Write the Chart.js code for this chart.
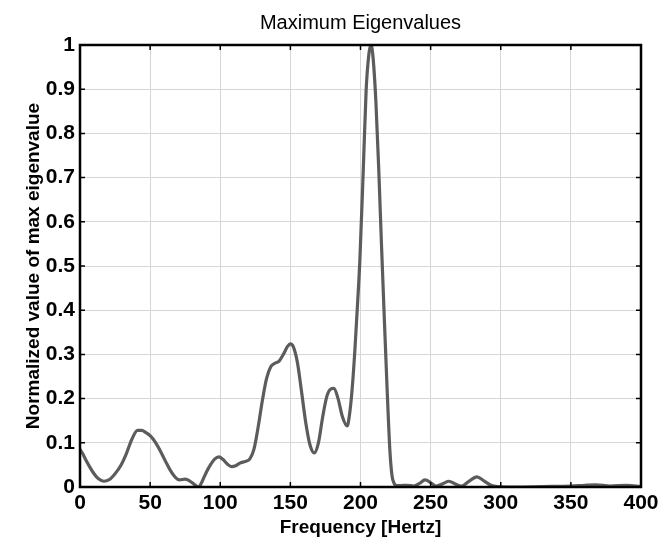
<!DOCTYPE html>
<html>
<head>
<meta charset="utf-8">
<script src="https://cdn.jsdelivr.net/npm/chart.js@4"></script>
<style>
  html, body { margin: 0; padding: 0; background: #ffffff; }
  #wrap { width: 671px; height: 537px; position: relative; }
</style>
</head>
<body>
<div id="wrap"><canvas id="c" width="671" height="537"></canvas></div>
<script>
const chartTitle = "Maximum Eigenvalues";
const xAxisTitle = "Frequency [Hertz]";
const yAxisTitle = "Normalized value of max eigenvalue";
const xTickLabels = ["0","50","100","150","200","250","300","350","400"];
const yTickLabels = ["0","0.1","0.2","0.3","0.4","0.5","0.6","0.7","0.8","0.9","1"];

const frequency = [0,2,4,7,10,13,17,21,25,29,33,37,41,44,47,50,54,57,61,64,68,71,75,78,81,84.5,87,90,93,96,99,102,105,108,111,114,118,121,124,127,130,133,136,139,142,145,148,150,152,155,158,161,164,167,170,173,176,179,181,184,187,190.5,192,194,196,198,199.5,202,204,206,207.5,209,211,213,215,217,219,221,222.5,224,226,228,233,238,242,246,250,254,259,263,268,272,277,283,288,293,298,310,330,350,360,368,378,390,400];
const maxEigenvalue = [0.085,0.075,0.062,0.045,0.030,0.019,0.013,0.017,0.030,0.048,0.075,0.108,0.128,0.128,0.123,0.116,0.100,0.083,0.058,0.040,0.022,0.016,0.018,0.014,0.007,0.0,0.012,0.033,0.050,0.063,0.068,0.062,0.052,0.046,0.048,0.054,0.058,0.063,0.085,0.135,0.195,0.245,0.272,0.280,0.285,0.300,0.318,0.324,0.318,0.282,0.215,0.145,0.095,0.077,0.100,0.158,0.205,0.222,0.223,0.200,0.160,0.138,0.160,0.220,0.310,0.420,0.510,0.720,0.896,0.980,1.0,0.970,0.870,0.720,0.545,0.380,0.220,0.080,0.025,0.008,0.003,0.003,0.004,0.002,0.008,0.016,0.010,0.002,0.008,0.013,0.006,0.002,0.012,0.023,0.014,0.004,0.001,0.0,0.001,0.002,0.004,0.005,0.002,0.004,0.001];

const points = frequency.map((f, i) => ({ x: f, y: maxEigenvalue[i] }));

const FONT = "'Liberation Sans', Arial, Helvetica, sans-serif";

const frameAndTicks = {
  id: 'frameAndTicks',
  afterDraw(chart) {
    const { ctx, chartArea: a, scales } = chart;
    const xs = scales.x, ys = scales.y;
    ctx.save();
    ctx.strokeStyle = '#000000';
    ctx.lineWidth = 1.5;
    const L = 5;
    ctx.beginPath();
    xs.ticks.forEach(t => {
      const px = xs.getPixelForValue(t.value);
      ctx.moveTo(px, a.bottom); ctx.lineTo(px, a.bottom - L);
      ctx.moveTo(px, a.top); ctx.lineTo(px, a.top + L);
    });
    ys.ticks.forEach(t => {
      const py = ys.getPixelForValue(t.value);
      ctx.moveTo(a.left, py); ctx.lineTo(a.left + L, py);
      ctx.moveTo(a.right, py); ctx.lineTo(a.right - L, py);
    });
    ctx.stroke();
    ctx.lineWidth = 2.5;
    ctx.strokeRect(a.left, a.top, a.right - a.left, a.bottom - a.top);
    ctx.restore();
  }
};

new Chart(document.getElementById('c'), {
  type: 'line',
  data: {
    datasets: [{
      data: points,
      borderColor: '#5c5c5c',
      borderWidth: 3.2,
      pointRadius: 0,
      fill: false,
      cubicInterpolationMode: 'monotone'
    }]
  },
  options: {
    responsive: false,
    animation: false,
    layout: { padding: { top: 8, right: 30, bottom: 0, left: 0 } },
    plugins: {
      legend: { display: false },
      tooltip: { enabled: false },
      title: {
        display: true,
        fullSize: false,
        text: chartTitle,
        color: '#000000',
        font: { family: FONT, size: 20, weight: 'normal', lineHeight: 1.2 },
        padding: { top: 3, bottom: 10 }
      }
    },
    scales: {
      x: {
        type: 'linear',
        min: 0, max: 400,
        afterFit(s) { s.height = 50; },
        border: { display: false },
        grid: { color: '#d6d6d6', lineWidth: 1, drawTicks: false },
        ticks: {
          stepSize: 50,
          color: '#000000',
          padding: 4,
          maxRotation: 0,
          font: { family: FONT, size: 21, weight: 'bold' },
          callback: (v, i) => xTickLabels[i]
        },
        title: {
          display: true,
          text: xAxisTitle,
          color: '#000000',
          padding: { top: 0, bottom: 0 },
          font: { family: FONT, size: 19, weight: 'bold', lineHeight: 1.0 }
        }
      },
      y: {
        type: 'linear',
        min: 0, max: 1,
        afterFit(s) { s.width = 80; },
        border: { display: false },
        grid: { color: '#d6d6d6', lineWidth: 1, drawTicks: false },
        ticks: {
          stepSize: 0.1,
          color: '#000000',
          padding: 5,
          font: { family: FONT, size: 21, weight: 'bold' },
          callback: (v, i) => yTickLabels[i]
        },
        title: {
          display: true,
          text: yAxisTitle,
          color: '#000000',
          padding: { top: 24, bottom: 0 },
          font: { family: FONT, size: 19, weight: 'bold', lineHeight: 1.0 }
        }
      }
    }
  },
  plugins: [frameAndTicks]
});
</script>
</body>
</html>
